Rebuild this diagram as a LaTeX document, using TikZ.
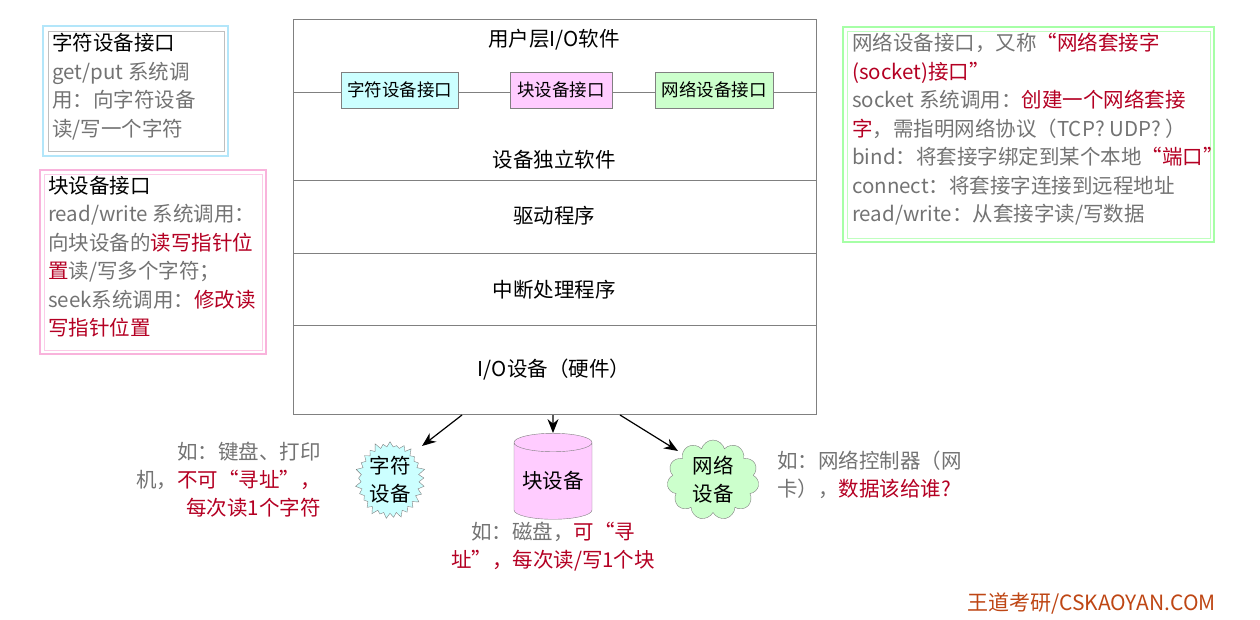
\documentclass[tikz,border=0pt]{standalone}
\usepackage{fontspec}
\setmainfont{Noto Sans CJK SC}
\usetikzlibrary{shapes.geometric,shapes.symbols,arrows.meta}
\definecolor{gtx}{RGB}{115,115,115}
\definecolor{rtx}{RGB}{180,0,35}
\definecolor{cy}{RGB}{204,255,255}
\definecolor{pk}{RGB}{255,204,255}
\definecolor{gn}{RGB}{204,255,204}
\newcommand{\rr}[1]{\textcolor{rtx}{#1}}
\tikzset{
 lay/.style={font=\fontsize{20.5}{24}\selectfont},
 ibox/.style={draw=gray,minimum height=36pt,font=\fontsize{17.5}{20}\selectfont,inner sep=2pt},
 note/.style={anchor=north west,align=left,inner sep=0pt,text=gtx,font=\fontsize{20.5}{28.5}\selectfont},
 arr/.style={-{Stealth[length=14pt,width=11pt]},line width=1.2pt}
}
\begin{document}
\begin{tikzpicture}[x=1pt,y=-1pt]
\useasboundingbox (0,0) rectangle (1260,620);
% main stack
\node[draw=gray,minimum width=523pt,minimum height=395pt,inner sep=0pt] (main) at (554.5,216.5) {};
\draw[gray] (293,180) -- (816,180) (293,253) -- (816,253) (293,325) -- (816,325);
\node[lay] (ul) at (554,40) {用户层I/O软件};
\node[lay] (di) at (554,160) {设备独立软件};
\node[lay] (dr) at (554,216) {驱动程序};
\node[lay] (ih) at (554,290) {中断处理程序};
\node[lay] (hw) at (554,370) {I/O设备（硬件）};
\coordinate (la) at (293,92); \coordinate (lb) at (816,92);
\node[ibox,fill=cy,minimum width=117pt] (ci) at (399.5,90) {字符设备接口};
\node[ibox,fill=pk,minimum width=102pt] (bi) at (561,90) {块设备接口};
\node[ibox,fill=gn,minimum width=118pt] (ni) at (714,90) {网络设备接口};
\draw[gray] (la) -- (ci.west|-la) (ci.east|-la) -- (bi.west|-la) (bi.east|-la) -- (ni.west|-la) (ni.east|-la) -- (lb);
% left boxes
\draw[cyan!30,line width=1.2pt] (43,26) rectangle (228,156);
\draw[gray!50] (48,31) rectangle (224,151);
\node[note] (t1) at (52,33) {\textcolor{black}{字符设备接口}\\get/put 系统调\\用：向字符设备\\读/写一个字符};
\draw[magenta!30,line width=1.2pt] (40,170) rectangle (266,354);
\draw[magenta!20] (44,174) rectangle (262,350);
\node[note] (t2) at (48,176) {\textcolor{black}{块设备接口}\\read/write 系统调用：\\向块设备的\rr{读写指针位}\\\rr{置}读/写多个字符；\\seek系统调用：\rr{修改读}\\\rr{写指针位置}};
% right box
\draw[green!35,line width=1.2pt] (843,27) rectangle (1214,242);
\draw[green!25] (847,31) rectangle (1210,238);
\node[note] (t3) at (852,33) {网络设备接口，又称\rr{“网络套接字}\\\rr{(socket)接口”}\\socket 系统调用：\rr{创建一个网络套接}\\\rr{字}，需指明网络协议（TCP? UDP? ）\\bind：将套接字绑定到某个本地\rr{“端口”}\\connect：将套接字连接到远程地址\\read/write：从套接字读/写数据};
% devices
\node[starburst,draw=gray,fill=cy,starburst points=29,starburst point height=7pt,minimum width=72pt,minimum height=80pt,align=center,inner sep=0pt,font=\fontsize{20.5}{28}\selectfont] (cd) at (390,480) {字符\\设备};
\node[cylinder,shape border rotate=90,draw=gray,fill=pk,aspect=0.3,minimum width=78pt,minimum height=86pt,font=\fontsize{20.5}{24}\selectfont,inner sep=0pt] (bd) at (553,481) {块设备};
\node[cloud,draw=gray,fill=gn,cloud puffs=11,aspect=1.1,minimum width=92pt,minimum height=70pt,align=center,inner sep=0pt,font=\fontsize{20.5}{28}\selectfont] (nd) at (713,480) {网络\\设备};
\coordinate (a1) at (462,415); \coordinate (a2) at (553,415); \coordinate (a3) at (620,415);
\draw[arr] (a1) -- (422,446);
\draw[arr] (a2) -- (bd.north);
\draw[arr] (a3) -- (678,451);
\node[anchor=north east,align=right,inner sep=0pt,text=gtx,font=\fontsize{20.5}{28}\selectfont] (n1) at (321,442) {如：键盘、打印\\机，\rr{不可“寻址”，}\\\rr{每次读1个字符}};
\node[anchor=north,align=center,inner sep=0pt,text=gtx,font=\fontsize{20.5}{28}\selectfont] (n2) at (553,522) {如：磁盘，\rr{可“寻}\\\rr{址”，每次读/写1个块}};
\node[anchor=north west,align=left,inner sep=0pt,text=gtx,font=\fontsize{20.5}{28}\selectfont] (n3) at (777,451) {如：网络控制器（网\\卡），\rr{数据该给谁?}};
\node[anchor=east,inner sep=0pt,text={rgb,255:red,190;green,70;blue,20},font=\fontsize{21}{24}\selectfont] (wd) at (1216,604) {王道考研/CSKAOYAN.COM};
\end{tikzpicture}
\end{document}
